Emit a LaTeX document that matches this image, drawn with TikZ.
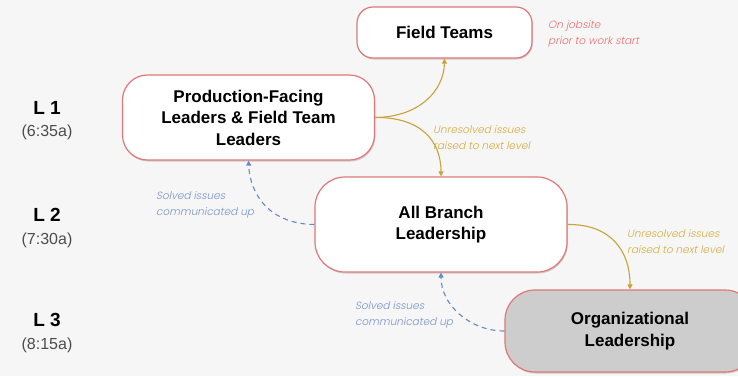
\documentclass[tikz,border=0pt]{standalone}
\usepackage{fontspec}
\setmainfont{Liberation Sans}
\newfontfamily\notefont{Poppins Light}[FakeSlant=0.2]
\usetikzlibrary{arrows.meta,shadows}
\definecolor{bg}{HTML}{F6F6F6}
\definecolor{boxline}{HTML}{E07878}
\definecolor{gold}{HTML}{C9A23A}
\definecolor{goldtxt}{HTML}{D4AE3E}
\definecolor{blu}{HTML}{6688CC}
\definecolor{blutxt}{HTML}{7A94CC}
\definecolor{redtxt}{HTML}{EC7070}
\definecolor{graybox}{HTML}{CDCDCD}
\begin{document}
\begin{tikzpicture}[x=1pt,y=-1pt,
  box/.style={draw=boxline,line width=1.2pt,fill=white,rounded corners=#1,
    drop shadow={shadow xshift=0.8pt,shadow yshift=-1.5pt,opacity=0.35},
    font=\bfseries\fontsize{17}{21.5}\selectfont,align=center,inner sep=0pt},
  boxtxt/.style={font=\bfseries\fontsize{17}{21.5}\selectfont,align=center,inner sep=0pt},
  lvl/.style={font=\bfseries\fontsize{19}{21}\selectfont},
  tim/.style={font=\fontsize{16}{18}\selectfont,text=black!70},
  note/.style={font=\notefont\fontsize{10.5}{16}\selectfont,align=left,anchor=west,inner sep=0pt},
  up/.style={gold,line width=1.1pt,-{Triangle[length=5pt,width=5pt]}},
  back/.style={blu,line width=1.1pt,dashed,dash pattern=on 5pt off 4pt,-{Triangle[length=5pt,width=5pt]}}]
\fill[bg] (0,0) rectangle (738,376);
\clip (0,0) rectangle (738,376);
\useasboundingbox (0,0) rectangle (738,376);
% boxes
\node[box=16pt,minimum width=175pt,minimum height=51pt] (ft) at (444.5,32.5) {Field Teams};
\node[box=25pt,minimum width=252pt,minimum height=85pt] (pf) at (248.5,117.5) {Production-Facing\\Leaders \& Field Team\\Leaders};
\node[box=30pt,minimum width=252pt,minimum height=95pt] (ab) at (441,224.5) {All Branch\\Leadership};
\node[box=30pt,minimum width=250pt,minimum height=82pt,fill=graybox] (ol) at (630,331) {};
\node[boxtxt] (olt) at (630,331) {Organizational\\Leadership};
% level labels
\node[lvl] (l1) at (47,108) {L 1};
\node[tim] (t1) at (47,132) {(6:35a)};
\node[lvl] (l2) at (47,215) {L 2};
\node[tim] (t2) at (47,240) {(7:30a)};
\node[lvl] (l3) at (47,320) {L 3};
\node[tim] (t3) at (47,345) {(8:15a)};
% connectors
\draw[up] (pf.east) .. controls (420,117) and (444,90) .. (ft.south);
\draw[up] (pf.east) .. controls (420,117) and (441,140) .. (ab.north);
\draw[up] (ab.east) .. controls (610,224) and (630,250) .. (ol.north);
\draw[back] (ab.west) .. controls (270,224) and (250,195) .. (pf.south);
\draw[back] (ol.west) .. controls (470,331) and (441,305) .. (ab.south);
% notes
\node[note,text=redtxt] (n1) at (548,33.5) {On jobsite\\prior to work start};
\node[note,text=goldtxt] (n2) at (433,138) {Unresolved issues\\raised to next level};
\node[note,text=blutxt] (n3) at (156,205) {Solved issues\\communicated up};
\node[note,text=goldtxt] (n4) at (627,242) {Unresolved issues\\raised to next level};
\node[note,text=blutxt] (n5) at (355,315) {Solved issues\\communicated up};
\end{tikzpicture}
\end{document}
